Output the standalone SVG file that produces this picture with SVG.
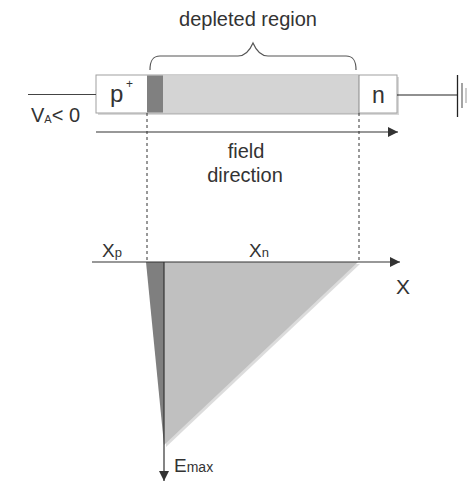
<svg xmlns="http://www.w3.org/2000/svg" width="467" height="483" viewBox="0 0 467 483">
<defs>
<style>
text{font-family:"Liberation Sans",Arial,sans-serif;fill:#333}
.ln{stroke:#333;stroke-width:1.2;fill:none}
.dash{stroke:#333;stroke-width:1;stroke-dasharray:3,3;fill:none}
</style>
<marker id="ah" viewBox="0 0 10 10" refX="10" refY="5" markerWidth="10" markerHeight="10" markerUnits="userSpaceOnUse" orient="auto">
<path d="M0,0 L10,5 L0,10 Z" fill="#333"/>
</marker>
</defs>
<rect width="467" height="483" fill="#fff"/>
<g id="title">
<text x="248" y="26" font-size="20" text-anchor="middle">depleted region</text>
<path d="M150,70 C150,60 153,56 160,56 L238,56 C246,56 250,50 253,43 C256,50 260,56 268,56 L346,56 C353,56 356,60 356,70" stroke="#555" stroke-width="1.2" fill="none"/>
</g>
<g id="device">
<rect x="98" y="77" width="301" height="38" fill="#d8d8d8"/>
<rect x="96" y="75" width="301" height="38" fill="#fff" stroke="#a0a0a0" stroke-width="1"/>
<rect x="147" y="75.5" width="16" height="37" fill="#808080"/>
<rect x="163" y="75.5" width="196" height="37" fill="#d4d4d4"/>
<line x1="359" y1="75" x2="359" y2="113" stroke="#888" stroke-width="1"/>
<text x="110" y="102" font-size="24">p</text>
<text x="126" y="88" font-size="12">+</text>
<text x="372" y="103" font-size="23">n</text>
</g>
<g id="terminals">
<line x1="28" y1="94.5" x2="96" y2="94.5" stroke="#444" stroke-width="1"/>
<line x1="397" y1="95" x2="457.5" y2="95" stroke="#222" stroke-width="1.2"/>
<line x1="457.5" y1="75" x2="457.5" y2="117" stroke="#222" stroke-width="1.3"/>
<line x1="462" y1="83" x2="462" y2="108" stroke="#666" stroke-width="1.2"/>
<line x1="466" y1="88" x2="466" y2="103" stroke="#aaa" stroke-width="1.2"/>
<text x="31" y="122" font-size="20">V<tspan font-size="11" dy="1">A</tspan><tspan dy="-1">&lt; 0</tspan></text>
</g>
<g id="field">
<text x="246" y="158" font-size="20" text-anchor="middle">field</text>
<text x="245" y="182" font-size="20" text-anchor="middle">direction</text>
</g>
<g id="plot">
<polygon points="166,264 360,264 166,447" fill="#dcdcdc"/>
<polygon points="146,262 164,262 164,445" fill="#7f7f7f"/>
<polygon points="164,262 358,262 164,445" fill="#c0c0c0"/>
<text x="102" y="257" font-size="19">X<tspan font-size="13">p</tspan></text>
<text x="249" y="257" font-size="19">X<tspan font-size="13">n</tspan></text>
<text x="396" y="294" font-size="21">X</text>
<text x="174" y="472" font-size="19">E<tspan font-size="14">max</tspan></text>
</g>
<g id="connectors">
<line class="ln" x1="96" y1="132" x2="398" y2="132" marker-end="url(#ah)"/>
<line class="dash" x1="147" y1="113" x2="147" y2="262"/>
<line class="dash" x1="359" y1="113" x2="359" y2="262"/>
<line class="ln" x1="92" y1="262" x2="400" y2="262" marker-end="url(#ah)"/>
<line class="ln" x1="164" y1="262" x2="164" y2="481" marker-end="url(#ah)"/>
</g>
</svg>
